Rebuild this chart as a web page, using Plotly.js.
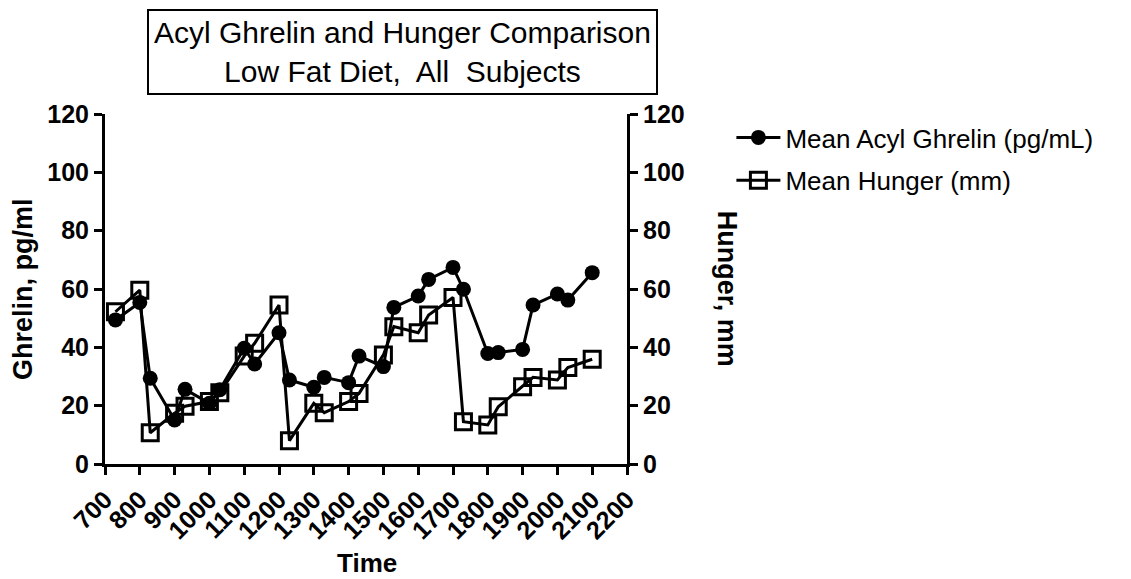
<!DOCTYPE html>
<html>
<head>
<meta charset="utf-8">
<script src="https://cdn.plot.ly/plotly-3.0.1.min.js"></script>
<style>html,body{margin:0;padding:0;background:#fff;}#chart{width:1131px;height:579px;}</style>
</head>
<body>
<div id="chart"></div>
<script>
const times = [730, 800, 830, 900, 930, 1000, 1030, 1100, 1130, 1200, 1230, 1300, 1330, 1400, 1430, 1500, 1530, 1600, 1630, 1700, 1730, 1800, 1830, 1900, 1930, 2000, 2030, 2100];
const ghrelin = [49.4, 55.4, 29.4, 15.1, 25.6, 20.8, 25.5, 39.7, 34.3, 45.0, 28.8, 26.3, 29.7, 27.9, 37.0, 33.4, 53.7, 57.6, 63.3, 67.4, 59.9, 37.9, 38.2, 39.3, 54.5, 58.3, 56.2, 65.6];
const hunger = [52.2, 59.6, 10.7, 17.4, 19.8, 21.4, 24.4, 37.0, 41.4, 54.5, 8.0, 20.8, 17.6, 21.4, 24.2, 37.4, 47.1, 45.0, 51.1, 57.1, 14.5, 13.4, 19.6, 26.5, 29.7, 28.8, 33.1, 35.9];
const xTicks = [700, 800, 900, 1000, 1100, 1200, 1300, 1400, 1500, 1600, 1700, 1800, 1900, 2000, 2100, 2200];
const yTicks = [0, 20, 40, 60, 80, 100, 120];
const seriesNames = ["Mean Acyl Ghrelin (pg/mL)", "Mean Hunger (mm)"];

const FONT = "Liberation Sans, Arial, sans-serif";

const traces = [
  {
    x: times, y: hunger, name: seriesNames[1], yaxis: "y2",
    type: "scatter", mode: "lines+markers",
    line: {color: "#000", width: 3},
    marker: {symbol: "square-open", size: 16, color: "#000", line: {color: "#000", width: 3}},
    legendgroup: "b", legendrank: 2
  },
  {
    x: times, y: ghrelin, name: seriesNames[0], yaxis: "y",
    type: "scatter", mode: "lines+markers",
    line: {color: "#000", width: 3},
    marker: {symbol: "circle", size: 15, color: "#000"},
    legendgroup: "a", legendrank: 1
  }
];

const axisCommon = {
  showline: true, linecolor: "#000", linewidth: 3,
  ticks: "outside", ticklen: 8, tickwidth: 3, tickcolor: "#000",
  showgrid: false, zeroline: false,
  tickfont: {family: FONT, size: 25, color: "#000", weight: "bold"}
};

const layout = {
  width: 1131, height: 579,
  margin: {l: 105, r: 504, t: 114, b: 115},
  paper_bgcolor: "#fff", plot_bgcolor: "#fff",
  font: {family: FONT, color: "#000"},
  showlegend: true,
  legend: {
    x: 1.2, xanchor: "left", y: 1.0, yanchor: "top",
    font: {family: FONT, size: 26, color: "#000"},
    bgcolor: "rgba(0,0,0,0)", traceorder: "grouped", tracegroupgap: 6,
    itemwidth: 44
  },
  xaxis: Object.assign({}, axisCommon, {
    range: [700, 2200], tickmode: "array", tickvals: xTicks,
    ticktext: xTicks.map(String), tickangle: -45
  }),
  yaxis: Object.assign({}, axisCommon, {
    range: [0, 120], tickmode: "array", tickvals: yTicks, ticktext: yTicks.map(String)
  }),
  yaxis2: Object.assign({}, axisCommon, {
    range: [0, 120], tickmode: "array", tickvals: yTicks, ticktext: yTicks.map(String),
    overlaying: "y", side: "right", anchor: "x"
  }),
  annotations: [
    {text: "Acyl Ghrelin and Hunger Comparison<br>Low Fat Diet,  All  Subjects",
     xref: "paper", yref: "paper", x: 0.569, y: 1.178, xanchor: "center", yanchor: "middle",
     showarrow: false, font: {family: FONT, size: 30, color: "#000"},
     bordercolor: "#000", borderwidth: 2, borderpad: 5, bgcolor: "#fff"},
    {text: "<b>Ghrelin, pg/ml</b>", xref: "paper", yref: "paper", x: -0.157, y: 0.5,
     xanchor: "center", yanchor: "middle", textangle: -90, showarrow: false,
     font: {family: FONT, size: 27, color: "#000"}},
    {text: "<b>Hunger, mm</b>", xref: "paper", yref: "paper", x: 1.192, y: 0.5,
     xanchor: "center", yanchor: "middle", textangle: 90, showarrow: false,
     font: {family: FONT, size: 27, color: "#000"}},
    {text: "<b>Time</b>", xref: "paper", yref: "paper", x: 0.502, y: -0.283,
     xanchor: "center", yanchor: "middle", showarrow: false,
     font: {family: FONT, size: 26, color: "#000"}}
  ]
};

Plotly.newPlot("chart", traces, layout, {displayModeBar: false, staticPlot: true});
</script>
</body>
</html>
